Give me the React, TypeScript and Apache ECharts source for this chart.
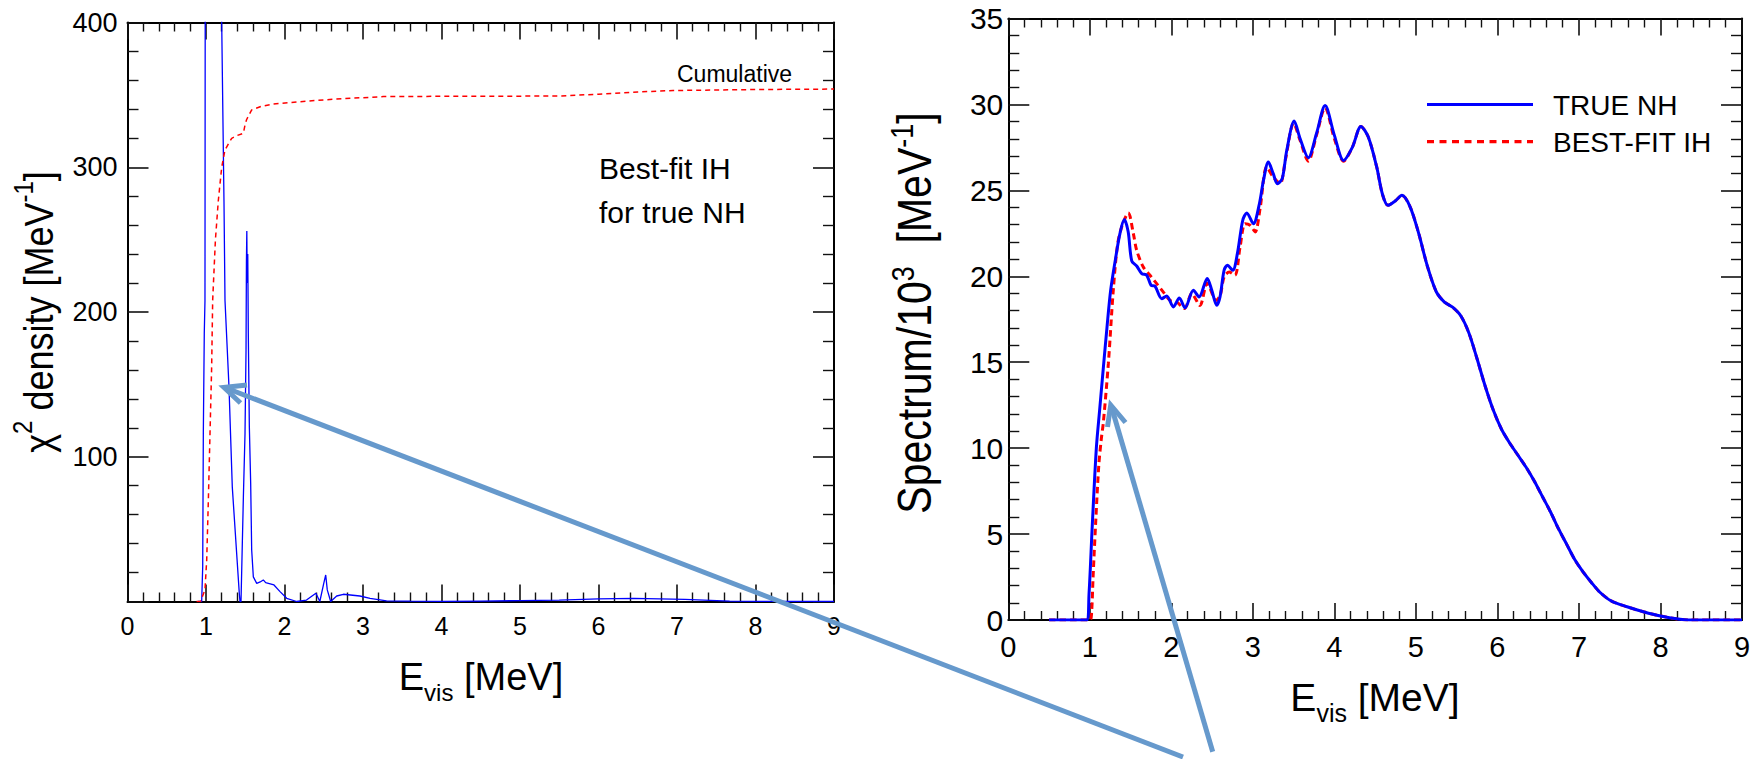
import React, { useEffect, useRef } from 'react';
import * as echarts from 'echarts';

const FONT = '"Liberation Sans", Arial, Helvetica, sans-serif';

// ---------- DATA ----------
// x axes (both panels): E_vis in MeV
const xMin = 0;
const xMax = 9;
const xStep = 1;
// left panel y axis
const chiYMax = 400;
const chiYStep = 100;
// right panel y axis
const specYMax = 35;
const specYStep = 5;

// Left panel: chi^2 density (blue)
const chi2Density: [number, number][] = [
  [0.9, 0], [0.945, 0], [0.958, 24], [0.966, 116], [0.978, 185], [0.987, 208], [0.99, 420],
  [1.06, 900], [1.2, 400], [1.229, 277], [1.242, 208], [1.293, 148], [1.335, 79], [1.424, 5.7],
  [1.433, 0], [1.446, 0], [1.476, 72], [1.497, 116], [1.51, 174], [1.515, 235], [1.52, 256],
  [1.525, 220], [1.532, 240], [1.539, 185], [1.552, 121], [1.569, 82], [1.582, 35.6], [1.603, 17],
  [1.646, 12.5], [1.69, 13.5], [1.73, 14.9], [1.76, 13], [1.794, 12.5], [1.866, 11.4], [1.943, 6.8],
  [2.028, 2.2], [2.155, 0], [2.28, 1.0], [2.4, 5.7], [2.45, 0], [2.5, 12.5], [2.525, 18.3],
  [2.545, 8], [2.588, 0], [2.665, 3.8], [2.75, 5], [2.96, 3.8], [3.09, 2.2], [3.3, 0.5],
  [3.6, 0.2], [4.0, 0.1], [4.5, 0.3], [5.0, 0.6], [5.5, 1.0], [6.0, 1.8], [6.45, 2.2],
  [7.1, 1.5], [7.67, 0.3], [8.38, 0], [9.0, 0],
];

// Left panel: cumulative chi^2 (red dashed)
const chi2Cumulative: [number, number][] = [
  [0.88, 0], [0.93, 0], [0.987, 8], [1.009, 28.7], [1.03, 70], [1.051, 116], [1.072, 162],
  [1.085, 208], [1.12, 250], [1.157, 277], [1.2, 300], [1.242, 312], [1.327, 320], [1.4, 322],
  [1.476, 323.5], [1.5, 330], [1.518, 333], [1.582, 339.6], [1.7, 342], [1.857, 343.7],
  [2.197, 345.3], [2.62, 347], [3.26, 348.8], [4.0, 349], [5.52, 349.2], [6.0, 350.5],
  [6.5, 352], [6.95, 353], [8.0, 353.7], [9.0, 354],
];

// Right panel: spectrum / 10^3, TRUE NH (blue)
const spectrumTrueNH: [number, number][] = [
  [0.5, 0], [0.96, 0], [0.99, 1.5], [1.03, 5.5], [1.08, 10], [1.12, 12.2], [1.17, 14.9],
  [1.21, 17], [1.256, 19.2], [1.318, 21.1], [1.37, 22.5], [1.423, 23.3], [1.47, 22.6],
  [1.514, 20.9], [1.575, 20.6], [1.637, 20.16], [1.698, 20.06], [1.751, 19.48], [1.8, 19.42],
  [1.882, 18.7], [1.943, 18.85], [2.025, 18.22], [2.098, 18.74], [2.168, 18.16], [2.27, 19.19],
  [2.34, 18.8], [2.44, 19.87], [2.496, 19.19], [2.557, 18.31], [2.597, 18.8], [2.647, 20.35],
  [2.687, 20.64], [2.753, 20.35], [2.81, 21.32], [2.876, 23.26], [2.925, 23.68], [3.006, 23.06],
  [3.08, 24.22], [3.13, 25.58], [3.19, 26.65], [3.25, 25.97], [3.3, 25.39], [3.36, 25.68],
  [3.416, 27.33], [3.507, 29.03], [3.58, 28.0], [3.68, 26.9], [3.78, 28.3], [3.886, 29.94],
  [4.0, 28.2], [4.113, 26.74], [4.22, 27.5], [4.326, 28.72], [4.416, 28.1], [4.519, 26.36],
  [4.588, 24.8], [4.657, 24.13], [4.75, 24.4], [4.829, 24.71], [4.93, 24.03], [5.035, 22.48],
  [5.14, 20.6], [5.25, 19.1], [5.35, 18.5], [5.45, 18.2], [5.55, 17.7], [5.65, 16.7],
  [5.75, 15.2], [5.85, 13.6], [5.95, 12.2], [6.05, 11.1], [6.15, 10.3], [6.25, 9.6], [6.35, 8.9],
  [6.45, 8.1], [6.55, 7.2], [6.65, 6.3], [6.75, 5.3], [6.85, 4.4], [6.95, 3.5], [7.05, 2.8],
  [7.15, 2.2], [7.26, 1.6], [7.4, 1.1], [7.59, 0.77], [7.79, 0.48], [8.0, 0.23], [8.24, 0.04],
  [8.35, 0], [9.0, 0],
];

// Right panel: spectrum / 10^3, BEST-FIT IH (red dashed)
const spectrumBestFitIH: [number, number][] = [
  [0.5, 0], [1.0, 0], [1.02, 0.3], [1.04, 2.5], [1.07, 5.5], [1.11, 9.0], [1.14, 10.5],
  [1.166, 11.5], [1.227, 14.9], [1.288, 19.2], [1.342, 21.9], [1.4, 23.0], [1.472, 23.68],
  [1.534, 22.48], [1.575, 21.51], [1.656, 20.54], [1.738, 20.06], [1.82, 19.57], [1.9, 19.09],
  [1.984, 18.6], [2.066, 18.5], [2.16, 18.12], [2.25, 18.99], [2.35, 18.3], [2.44, 19.6],
  [2.55, 18.6], [2.6, 18.9], [2.647, 19.96], [2.712, 20.25], [2.78, 20.06], [2.843, 21.7],
  [2.904, 23.06], [2.966, 22.97], [3.027, 22.58], [3.088, 23.93], [3.17, 26.36], [3.25, 25.77],
  [3.334, 25.39], [3.4, 26.8], [3.5, 28.9], [3.58, 27.9], [3.68, 26.7], [3.78, 28.2],
  [3.886, 29.8], [4.0, 28.0], [4.113, 26.7], [4.22, 27.5], [4.326, 28.72], [4.416, 28.1],
  [4.519, 26.36], [4.588, 24.8], [4.657, 24.13], [4.75, 24.4], [4.829, 24.71], [4.93, 24.03],
  [5.035, 22.48], [5.14, 20.6], [5.25, 19.1], [5.35, 18.5], [5.45, 18.2], [5.55, 17.7],
  [5.65, 16.7], [5.75, 15.2], [5.85, 13.6], [5.95, 12.2], [6.05, 11.1], [6.15, 10.3],
  [6.25, 9.6], [6.35, 8.9], [6.45, 8.1], [6.55, 7.2], [6.65, 6.3], [6.75, 5.3], [6.85, 4.4],
  [6.95, 3.5], [7.05, 2.8], [7.15, 2.2], [7.26, 1.6], [7.4, 1.1], [7.59, 0.77], [7.79, 0.48],
  [8.0, 0.23], [8.24, 0.04], [8.35, 0], [9.0, 0],
];

const legendNames = ['TRUE NH', 'BEST-FIT IH'];

// ---------- helpers ----------
let measureCtx: CanvasRenderingContext2D | null = null;
function tw(text: string, size: number): number {
  if (!measureCtx) measureCtx = document.createElement('canvas').getContext('2d');
  if (!measureCtx) return text.length * size * 0.55;
  measureCtx.font = `${size}px "Liberation Sans", Arial, sans-serif`;
  return measureCtx.measureText(text).width;
}

type Part = { t: string; s: number; dy?: number };
function composite(parts: Part[], cx: number, cy: number, rotation = 0, scaleY = 1) {
  const widths = parts.map((p) => tw(p.t, p.s));
  const total = widths.reduce((a, b) => a + b, 0);
  let cur = -total / 2;
  const children = parts.map((p, i) => {
    const el = {
      type: 'text',
      x: cur,
      y: p.dy || 0,
      style: {
        text: p.t,
        fontSize: p.s,
        fontFamily: FONT,
        fill: '#000',
        textAlign: 'left',
        align: 'left',
        textVerticalAlign: 'middle',
        verticalAlign: 'middle',
      },
    };
    cur += widths[i];
    return el;
  });
  return { type: 'group', x: cx, y: cy, rotation, scaleY, z: 20, children };
}

function xAxisDef(gridIndex: number, position: 'top' | 'bottom', fontSize: number, show: boolean) {
  return {
    type: 'value',
    gridIndex,
    position,
    min: xMin,
    max: xMax,
    interval: xStep,
    axisLine: { show: true, onZero: false, lineStyle: { color: '#000', width: 2 } },
    axisTick: { show: true, inside: true, length: 17, lineStyle: { color: '#111', width: 1.6 } },
    minorTick: { show: true, splitNumber: 5, length: 9, lineStyle: { color: '#111', width: 1.4 } },
    splitLine: { show: false },
    minorSplitLine: { show: false },
    axisLabel: {
      show,
      fontSize,
      color: '#000',
      fontFamily: FONT,
      margin: 12,
      showMinLabel: true,
      showMaxLabel: true,
    },
  };
}

function yAxisDef(
  gridIndex: number,
  position: 'left' | 'right',
  max: number,
  interval: number,
  fontSize: number,
  show: boolean,
  margin: number,
  hideZero: boolean,
) {
  return {
    type: 'value',
    gridIndex,
    position,
    min: 0,
    max,
    interval,
    axisLine: { show: true, onZero: false, lineStyle: { color: '#000', width: 2 } },
    axisTick: { show: true, inside: true, length: 21, lineStyle: { color: '#111', width: 1.6 } },
    minorTick: { show: true, splitNumber: 5, length: 11, lineStyle: { color: '#111', width: 1.4 } },
    splitLine: { show: false },
    minorSplitLine: { show: false },
    axisLabel: {
      show,
      fontSize,
      color: '#000',
      fontFamily: FONT,
      margin,
      showMinLabel: true,
      showMaxLabel: true,
      formatter: (v: number) => (hideZero && v === 0 ? '' : String(v)),
    },
  };
}

const ARROW = '#6699CC';

export default function App() {
  const ref = useRef<HTMLDivElement>(null);
  useEffect(() => {
    if (!ref.current) return;
    const chart = echarts.init(ref.current, null, { renderer: 'svg' });

    const graphics: any[] = [
      // axis titles
      composite(
        [
          { t: 'E', s: 38 },
          { t: 'vis', s: 24, dy: 15 },
          { t: ' [MeV]', s: 38 },
        ],
        481,
        677,
      ),
      composite(
        [
          { t: 'E', s: 39 },
          { t: 'vis', s: 25, dy: 16 },
          { t: ' [MeV]', s: 39 },
        ],
        1375,
        697,
      ),
      composite(
        [
          { t: 'χ', s: 36 },
          { t: '2', s: 24, dy: -14 },
          { t: ' density [MeV', s: 36 },
          { t: '-1', s: 24, dy: -13 },
          { t: ']', s: 36 },
        ],
        38.7,
        312,
        Math.PI / 2,
        1.15,
      ),
      composite(
        [
          { t: 'Spectrum/10', s: 41 },
          { t: '3', s: 27, dy: -10 },
          { t: '  [MeV', s: 41 },
          { t: '-1', s: 27, dy: -11 },
          { t: ']', s: 41 },
        ],
        914.7,
        313,
        Math.PI / 2,
        1.15,
      ),
      // annotations
      {
        type: 'text',
        x: 677,
        y: 74,
        z: 20,
        style: { text: 'Cumulative', fontSize: 23, fontFamily: FONT, fill: '#000', textAlign: 'left', textVerticalAlign: 'middle' },
      },
      {
        type: 'text',
        x: 599,
        y: 168,
        z: 20,
        style: { text: 'Best-fit IH', fontSize: 30, fontFamily: FONT, fill: '#000', textAlign: 'left', textVerticalAlign: 'middle' },
      },
      {
        type: 'text',
        x: 599,
        y: 212,
        z: 20,
        style: { text: 'for true NH', fontSize: 30, fontFamily: FONT, fill: '#000', textAlign: 'left', textVerticalAlign: 'middle' },
      },
      // legend
      {
        type: 'line',
        z: 20,
        shape: { x1: 1427, y1: 104.5, x2: 1533, y2: 104.5 },
        style: { stroke: '#0000ff', lineWidth: 3.2 },
      },
      {
        type: 'line',
        z: 20,
        shape: { x1: 1427, y1: 141.7, x2: 1533, y2: 141.7 },
        style: { stroke: '#ff0000', lineWidth: 3.2, lineDash: [7, 5.5] },
      },
      {
        type: 'text',
        x: 1553,
        y: 105.5,
        z: 20,
        style: { text: legendNames[0], fontSize: 28, fontFamily: FONT, fill: '#000', textAlign: 'left', textVerticalAlign: 'middle' },
      },
      {
        type: 'text',
        x: 1553,
        y: 142,
        z: 20,
        style: { text: legendNames[1], fontSize: 28, fontFamily: FONT, fill: '#000', textAlign: 'left', textVerticalAlign: 'middle' },
      },
      // arrows
      {
        type: 'line',
        z: 30,
        shape: { x1: 1183, y1: 757, x2: 226, y2: 388 },
        style: { stroke: ARROW, lineWidth: 5 },
      },
      {
        type: 'polyline',
        z: 30,
        shape: { points: [[247, 385], [224, 387.5], [240.5, 403]] },
        style: { stroke: ARROW, lineWidth: 5, fill: null },
      },
      {
        type: 'line',
        z: 30,
        shape: { x1: 1212.7, y1: 751.7, x2: 1111.5, y2: 407 },
        style: { stroke: ARROW, lineWidth: 5 },
      },
      {
        type: 'polyline',
        z: 30,
        shape: { points: [[1125.5, 422.5], [1110.7, 405], [1107.5, 427]] },
        style: { stroke: ARROW, lineWidth: 5, fill: null },
      },
    ];

    chart.setOption({
      animation: false,
      backgroundColor: '#ffffff',
      grid: [
        { left: 127.5, top: 22.5, width: 706.5, height: 579 },
        { left: 1008.3, top: 18.5, width: 733.7, height: 601.5 },
      ],
      xAxis: [
        xAxisDef(0, 'bottom', 25, true),
        xAxisDef(0, 'top', 25, false),
        xAxisDef(1, 'bottom', 29, true),
        xAxisDef(1, 'top', 29, false),
      ],
      yAxis: [
        yAxisDef(0, 'left', chiYMax, chiYStep, 27, true, 10, true),
        yAxisDef(0, 'right', chiYMax, chiYStep, 27, false, 10, true),
        yAxisDef(1, 'left', specYMax, specYStep, 30, true, 5, false),
        yAxisDef(1, 'right', specYMax, specYStep, 30, false, 5, false),
      ],
      series: [
        {
          name: 'χ2 density',
          type: 'line',
          xAxisIndex: 0,
          yAxisIndex: 0,
          data: chi2Density,
          showSymbol: false,
          symbol: 'none',
          clip: true,
          lineStyle: { color: '#0000ff', width: 1.3 },
          z: 3,
        },
        {
          name: 'Cumulative',
          type: 'line',
          xAxisIndex: 0,
          yAxisIndex: 0,
          data: chi2Cumulative,
          showSymbol: false,
          symbol: 'none',
          clip: true,
          lineStyle: { color: '#ff0000', width: 1.5, type: [5, 4] },
          z: 4,
        },
        {
          name: legendNames[1],
          type: 'line',
          xAxisIndex: 2,
          yAxisIndex: 2,
          data: spectrumBestFitIH,
          showSymbol: false,
          symbol: 'none',
          smooth: 0.3,
          clip: true,
          lineStyle: { color: '#ff0000', width: 3, type: [6.5, 4] },
          z: 3,
        },
        {
          name: legendNames[0],
          type: 'line',
          xAxisIndex: 2,
          yAxisIndex: 2,
          data: spectrumTrueNH,
          showSymbol: false,
          symbol: 'none',
          smooth: 0.3,
          clip: true,
          lineStyle: { color: '#0000ff', width: 3 },
          z: 4,
        },
      ],
      graphic: graphics,
    });

    return () => {
      chart.dispose();
    };
  }, []);

  return (
    <div
      ref={ref}
      style={{ position: 'absolute', left: 0, top: 0, width: 1760, height: 759, background: '#fff' }}
    />
  );
}
